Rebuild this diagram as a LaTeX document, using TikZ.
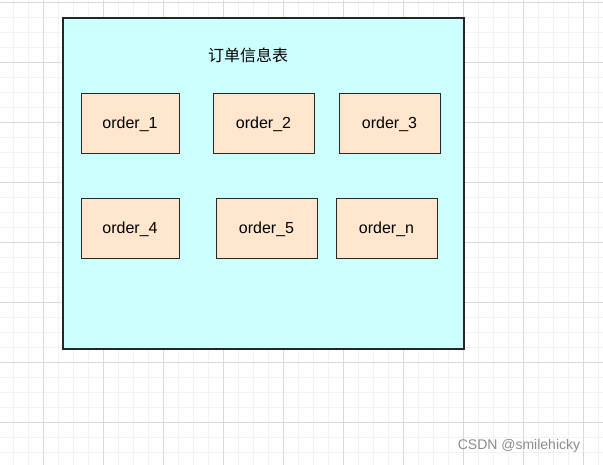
\documentclass[tikz,border=0pt]{standalone}
\usepackage{fontspec}
\setmainfont{Liberation Sans}
\newfontfamily\cjk{Noto Sans CJK SC}
\definecolor{tblfill}{HTML}{CCFFFF}
\definecolor{ordfill}{HTML}{FFE6CC}
\begin{document}
\begin{tikzpicture}[x=1pt,y=-1pt,
  ordbox/.style={draw=black!85,fill=ordfill,line width=1pt,minimum width=98pt,minimum height=60pt,font=\fontsize{16}{19}\selectfont},
]
\useasboundingbox (0,0) rectangle (603,465);
\fill[white] (0,0) rectangle (603,465);
\foreach \x in {-2,13,...,603} \draw[black!5,line width=0.5pt] (\x,0) -- (\x,465);
\foreach \y in {2,17,...,465} \draw[black!5,line width=0.5pt] (0,\y) -- (603,\y);
\foreach \x in {43,103,...,603} \draw[black!15,line width=0.6pt] (\x,0) -- (\x,465);
\foreach \y in {2,62,...,465} \draw[black!15,line width=0.6pt] (0,\y) -- (603,\y);
\node[draw=black!85,fill=tblfill,line width=1.2pt,minimum width=401pt,minimum height=331pt,inner sep=0pt] (tbl) at (263.5,183.5) {};
\node[font=\cjk\fontsize{16}{19}\selectfont] (title) at (248,55) {订单信息表};
\node[ordbox] (o1) at (130,124) {order\_1};
\node[ordbox,minimum width=101pt] (o2) at (263.5,124) {order\_2};
\node[ordbox,minimum width=101pt] (o3) at (389.5,124) {order\_3};
\node[ordbox] (o4) at (130,229) {order\_4};
\node[ordbox,minimum width=101pt] (o5) at (266.5,229) {order\_5};
\node[ordbox,minimum width=101pt] (on) at (386.5,229) {order\_n};
\node[text=black!45,font=\fontsize{14}{16}\selectfont] (wm) at (519,446) {CSDN @smilehicky};
\end{tikzpicture}
\end{document}
